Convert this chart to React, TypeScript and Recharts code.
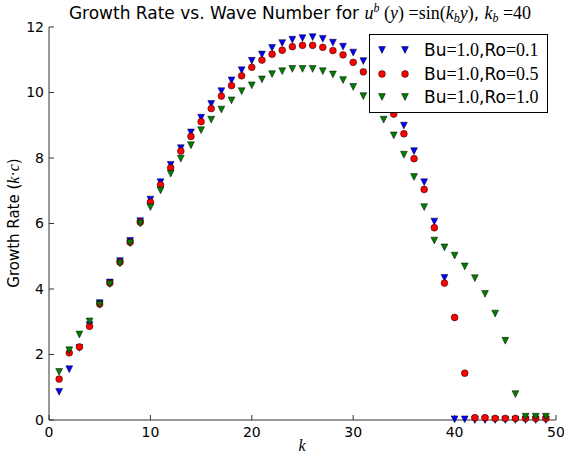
import React from 'react';
import { ScatterChart, Scatter, XAxis, YAxis } from 'recharts';

const kValues = [1,2,3,4,5,6,7,8,9,10,11,12,13,14,15,16,17,18,19,20,21,22,23,24,25,26,27,28,29,30,31,32,33,34,35,36,37,38,39,40,41,42,43,44,45,46,47,48,49];

const ro01 = [0.86,1.55,2.2,2.9,3.57,4.2,4.85,5.47,6.07,6.73,7.26,7.79,8.3,8.78,9.23,9.65,10.04,10.37,10.68,10.97,11.16,11.36,11.51,11.61,11.66,11.69,11.64,11.52,11.4,11.22,10.96,10.6,10.15,9.6,8.99,8.21,7.26,6.06,4.34,0.02,0.02,0,0,0,0,0,0,0,0];

const ro05 = [1.25,2.05,2.23,2.86,3.54,4.18,4.82,5.43,6.04,6.65,7.18,7.7,8.21,8.66,9.11,9.51,9.89,10.21,10.51,10.77,10.99,11.17,11.29,11.4,11.44,11.44,11.38,11.28,11.15,10.92,10.63,10.25,9.82,9.34,8.74,7.98,7.04,5.87,4.18,3.13,1.43,0.07,0.07,0.05,0.05,0.05,0.05,0.05,0.05];

const ro10 = [1.47,2.13,2.61,3.01,3.52,4.15,4.78,5.4,6.0,6.5,7.01,7.52,7.98,8.39,8.85,9.17,9.48,9.76,10.04,10.22,10.4,10.56,10.65,10.72,10.72,10.72,10.65,10.55,10.38,10.17,9.89,9.55,9.17,8.69,8.1,7.42,6.5,5.48,5.27,5.02,4.69,4.33,3.85,3.25,2.42,0.79,0.1,0.1,0.1];

const xTicks = [0,10,20,30,40,50];
const yTicks = [0,2,4,6,8,10,12];
const legendLabels = [['1.0','0.1'],['1.0','0.5'],['1.0','1.0']];

const BLUE = '#0000ff';
const RED = '#ff0000';
const GREEN = '#007f00';
const R = 3.4;
const AXIS = '#333';

const toData = (vals: number[]) => kValues.map((k, i) => ({ k, v: vals[i] }));

const TriDown = (color: string) => (props: any) => {
  const { cx, cy } = props;
  if (cx == null || cy == null) return <g />;
  return (
    <path
      d={`M${cx - R},${cy - R} L${cx + R},${cy - R} L${cx},${cy + R} Z`}
      fill={color}
      stroke="#000"
      strokeWidth={0.5}
    />
  );
};

const Dot = (color: string) => (props: any) => {
  const { cx, cy } = props;
  if (cx == null || cy == null) return <g />;
  return <circle cx={cx} cy={cy} r={R} fill={color} stroke="#000" strokeWidth={0.5} />;
};

const tickStyle = { fill: '#000', fontSize: 14, fontFamily: 'DejaVu Sans' };
const SANS = 'DejaVu Sans';
const SERIF = 'Liberation Serif';

const LegendMarker = ({ kind, color }: { kind: string; color: string }) => (
  <svg width={10} height={10} style={{ display: 'block' }}>
    {kind === 'tri' ? (
      <path d={`M${5 - R},${5 - R} L${5 + R},${5 - R} L5,${5 + R} Z`} fill={color} stroke="#000" strokeWidth={0.5} />
    ) : (
      <circle cx={5} cy={5} r={R} fill={color} stroke="#000" strokeWidth={0.5} />
    )}
  </svg>
);

export default function App() {
  const series = [
    { kind: 'tri', color: BLUE },
    { kind: 'dot', color: RED },
    { kind: 'tri', color: GREEN },
  ];
  return (
    <div style={{ position: 'absolute', left: 0, top: 0, width: 564, height: 456, background: '#fff' }}>
      <ScatterChart width={564} height={456} margin={{ top: 27, right: 8, bottom: 6, left: 19 }}>
        <XAxis
          xAxisId="b"
          dataKey="k"
          type="number"
          domain={[0, 50]}
          ticks={xTicks}
          orientation="bottom"
          height={30}
          tickSize={-5}
          tickMargin={12}
          tick={tickStyle}
          axisLine={{ stroke: AXIS }}
          tickLine={{ stroke: AXIS }}
        />
        <XAxis
          xAxisId="t"
          dataKey="k"
          type="number"
          domain={[0, 50]}
          ticks={xTicks}
          orientation="top"
          height={0}
          tickSize={-5}
          tick={false}
          axisLine={{ stroke: AXIS }}
          tickLine={{ stroke: AXIS }}
        />
        <YAxis
          yAxisId="l"
          dataKey="v"
          type="number"
          domain={[0, 12]}
          ticks={yTicks}
          orientation="left"
          width={30}
          tickSize={-5}
          tickMargin={10}
          tick={tickStyle}
          axisLine={{ stroke: AXIS }}
          tickLine={{ stroke: AXIS }}
        />
        <YAxis
          yAxisId="r"
          dataKey="v"
          type="number"
          domain={[0, 12]}
          ticks={yTicks}
          orientation="right"
          width={0}
          tickSize={-5}
          tick={false}
          axisLine={{ stroke: AXIS }}
          tickLine={{ stroke: AXIS }}
        />
        <Scatter xAxisId="b" yAxisId="l" data={toData(ro01)} dataKey="v" shape={TriDown(BLUE)} isAnimationActive={false} />
        <Scatter xAxisId="b" yAxisId="l" data={toData(ro05)} dataKey="v" shape={Dot(RED)} isAnimationActive={false} />
        <Scatter xAxisId="b" yAxisId="l" data={toData(ro10)} dataKey="v" shape={TriDown(GREEN)} isAnimationActive={false} />
      </ScatterChart>

      <svg width={564} height={456} style={{ position: 'absolute', left: 0, top: 0, pointerEvents: 'none' }}>
        <text x={300} y={19} textAnchor="middle" fontSize={17} fontFamily={SANS} fill="#000">
          <tspan>Growth Rate vs. Wave Number for </tspan>
          <tspan fontFamily={SERIF} fontStyle="italic" fontSize={18}>u</tspan>
          <tspan fontFamily={SERIF} fontStyle="italic" fontSize={12} dy={-7}>b</tspan>
          <tspan fontFamily={SERIF} fontSize={18} dy={7}> (</tspan>
          <tspan fontFamily={SERIF} fontStyle="italic" fontSize={18}>y</tspan>
          <tspan fontFamily={SERIF} fontSize={18}>) =sin(</tspan>
          <tspan fontFamily={SERIF} fontStyle="italic" fontSize={18}>k</tspan>
          <tspan fontFamily={SERIF} fontStyle="italic" fontSize={12} dy={3}>b</tspan>
          <tspan fontFamily={SERIF} fontStyle="italic" fontSize={18} dy={-3}>y</tspan>
          <tspan fontFamily={SERIF} fontSize={18}>)</tspan>
          <tspan>, </tspan>
          <tspan fontFamily={SERIF} fontStyle="italic" fontSize={18}>k</tspan>
          <tspan fontFamily={SERIF} fontStyle="italic" fontSize={12} dy={3}>b</tspan>
          <tspan fontFamily={SERIF} fontSize={18} dy={-3}> =40</tspan>
        </text>
        <text x={302} y={451} textAnchor="middle" fontSize={16} fontFamily={SERIF} fontStyle="italic" fill="#000">k</text>
        <text
          x={0}
          y={0}
          transform="translate(19,223) rotate(-90)"
          textAnchor="middle"
          fontSize={15}
          fontFamily={SANS}
          fill="#000"
        >
          <tspan>Growth Rate (</tspan>
          <tspan fontFamily={SERIF} fontStyle="italic" fontSize={16}>k</tspan>
          <tspan fontFamily={SERIF} fontSize={16}>·</tspan>
          <tspan fontFamily={SERIF} fontStyle="italic" fontSize={16}>c</tspan>
          <tspan>)</tspan>
        </text>
      </svg>

      <div
        style={{
          position: 'absolute',
          left: 369,
          top: 34,
          width: 177,
          height: 77,
          border: '1px solid #000',
          background: '#fff',
          boxSizing: 'content-box',
        }}
      >
        {series.map((s, i) => (
          <div
            key={i}
            style={{ position: 'absolute', left: 0, top: 4 + i * 23.7, height: 22, display: 'flex', alignItems: 'center' }}
          >
            <div style={{ position: 'absolute', left: 7 }}>
              <LegendMarker kind={s.kind} color={s.color} />
            </div>
            <div style={{ position: 'absolute', left: 30 }}>
              <LegendMarker kind={s.kind} color={s.color} />
            </div>
            <div style={{ position: 'absolute', left: 54, whiteSpace: 'nowrap', fontSize: 17, fontFamily: SANS, color: '#000', lineHeight: '22px' }}>
              <span>Bu</span>
              <span style={{ fontFamily: SERIF, fontSize: 18 }}>=1.0</span>
              <span>,Ro</span>
              <span style={{ fontFamily: SERIF, fontSize: 18 }}>={legendLabels[i][1]}</span>
            </div>
          </div>
        ))}
      </div>
    </div>
  );
}
